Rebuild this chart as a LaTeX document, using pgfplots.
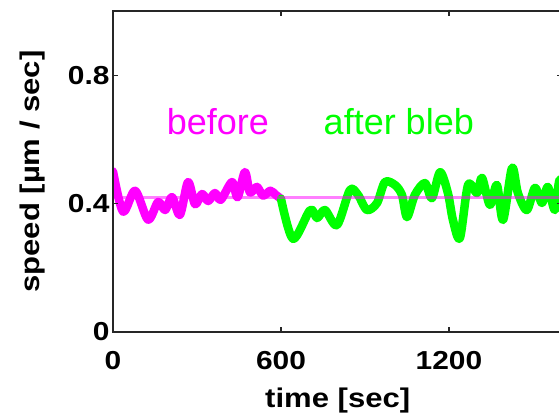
\documentclass[border=0pt]{standalone}
\usepackage{pgfplots}
\pgfplotsset{compat=1.18}
\usepackage{fontspec}
\setmainfont{Liberation Sans}
\newfontfamily\lab[FakeStretch=1.15]{Liberation Sans}
\definecolor{mag}{RGB}{255,0,255}
\definecolor{grn}{RGB}{0,255,0}
\begin{document}
\begin{tikzpicture}
\path[use as bounding box, clip] (0,0) rectangle (559pt,414pt);
\begin{axis}[
  at={(113pt,82pt)}, anchor=south west,
  scale only axis, width=449.4pt, height=321pt,
  xmin=0, xmax=1605, ymin=0, ymax=1,
  xtick={0,600,1200}, xticklabels={0,600,1200},
  ytick={0,0.4,0.8}, yticklabels={0,0.4,0.8},
  /pgf/number format/assume math mode=true,
  tick align=inside, major tick length=5pt,
  axis line style={line width=2.5pt, black!85},
  every tick/.style={black!85, line width=1.2pt},
  ticklabel style={font=\lab\bfseries\fontsize{26}{26}\selectfont},
  xticklabel style={yshift=-16pt},
  xlabel={time [sec]}, ylabel={speed [µm / sec]},
  every axis x label/.style={at={(axis description cs:0.5,-0.212)}, anchor=center, font=\lab\bfseries\fontsize{27}{27}\selectfont},
  every axis y label/.style={at={(axis description cs:-0.178,0.5)}, rotate=90, anchor=center, font=\lab\bfseries\fontsize{27}{27}\selectfont},
  axis on top,
]
\addplot[mag, line width=8.5pt, smooth, line cap=round, line join=round] coordinates {
(0,0.50) (36,0.375) (79,0.44) (125,0.35) (161,0.405) (186,0.38) (211,0.42) (239,0.365)
(268,0.467) (293,0.398) (318,0.43) (340,0.408) (364,0.433) (385,0.412) (425,0.467)
(445,0.42) (471,0.498) (489,0.435) (514,0.452) (536,0.425) (562,0.44) (580,0.428) (600,0.415)
};
\addplot[grn, line width=8.5pt, smooth, line cap=round, line join=round] coordinates {
(600,0.415) (643,0.29) (704,0.38) (729,0.355) (757,0.38) (800,0.333) (846,0.442) (875,0.427)
(907,0.38) (943,0.402) (971,0.467) (1007,0.458) (1032,0.427) (1050,0.358) (1078,0.427)
(1114,0.464) (1139,0.417) (1168,0.498) (1196,0.433) (1214,0.349) (1239,0.293) (1268,0.458)
(1300,0.433) (1318,0.48) (1346,0.396) (1371,0.458) (1393,0.349) (1425,0.511) (1446,0.433)
(1478,0.38) (1507,0.449) (1532,0.402) (1553,0.452) (1578,0.38) (1595,0.474) (1620,0.44)
};
\addplot[mag, opacity=0.5, line width=2.8pt] coordinates {(0,0.418) (1605,0.418)};
\node[anchor=base west, text=mag, font=\fontsize{36}{36}\selectfont] at (axis cs:180,0.614) {before};
\node[anchor=base west, text=grn, font=\fontsize{36}{36}\selectfont] at (axis cs:740,0.614) {after bleb};
\end{axis}
\end{tikzpicture}
\end{document}
